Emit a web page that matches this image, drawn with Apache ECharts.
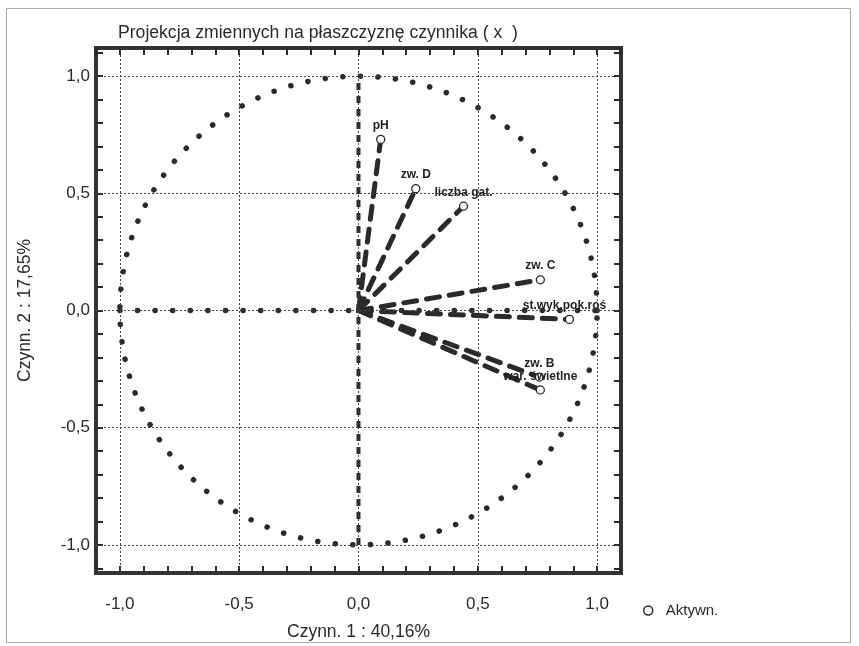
<!DOCTYPE html>
<html><head><meta charset="utf-8">
<script src="https://cdn.jsdelivr.net/npm/echarts@6/dist/echarts.min.js"></script>
<style>html,body{margin:0;padding:0;background:#fff}#c{width:859px;height:646px}</style>
</head><body><div id="c"></div>
<script>
// ---- data ----
const variables = ['pH', 'zw. D', 'liczba gat.', 'zw. C', 'st.wyk.pok.roś', 'zw. B', 'war. świetlne'];
const factor1 = [0.093, 0.24, 0.44, 0.762, 0.884, 0.758, 0.762];
const factor2 = [0.73, 0.52, 0.445, 0.131, -0.038, -0.284, -0.339];
const tickValues = [-1.0, -0.5, 0.0, 0.5, 1.0];
const titleText = 'Projekcja zmiennych na płaszczyznę czynnika ( x  )';
const xName = 'Czynn. 1 : 40,16%';
const yName = 'Czynn. 2 : 17,65%';
const legendName = 'Aktywn.';

// ---- helpers ----
const FONT = 'Liberation Sans, Arial, sans-serif';
const INK = '#2a2a2a';
const XMIN = -1.1, XMAX = 1.1, YMIN = -1.12, YMAX = 1.12;
const minorTicks = [];
for (let i = -11; i <= 11; i++) minorTicks.push(i / 10);
const fmt = v => (Math.round(v * 10) / 10).toFixed(1).replace('.', ',');

// unit circle of correlations (reference shape)
const unitCircle = [];
for (let a = 0; a <= 360; a += 1) {
  const r = a * Math.PI / 180;
  unitCircle.push([Math.cos(r), Math.sin(r)]);
}

const chart = echarts.init(document.getElementById('c'), null, {renderer: 'canvas'});

function mkX(pos, showLabel) {
  return {
    type: 'value', position: pos, min: XMIN, max: XMAX,
    name: showLabel ? xName : '', nameLocation: 'middle', nameGap: 50,
    nameTextStyle: {fontFamily: FONT, fontSize: 17.5, color: INK},
    axisLine: {show: false, onZero: false},
    splitLine: {show: false},
    axisTick: {show: true, inside: true, length: 7, customValues: minorTicks,
      lineStyle: {color: INK, width: 2}},
    axisLabel: {show: showLabel, customValues: tickValues, formatter: fmt, margin: 23,
      fontFamily: FONT, fontSize: 17, color: INK}
  };
}
function mkY(pos, showLabel) {
  return {
    type: 'value', position: pos, min: YMIN, max: YMAX,
    name: showLabel ? yName : '', nameLocation: 'middle', nameGap: 62,
    nameTextStyle: {fontFamily: FONT, fontSize: 17.5, color: INK},
    axisLine: {show: false, onZero: false},
    splitLine: {show: false},
    axisTick: {show: true, inside: true, length: 7, customValues: minorTicks,
      lineStyle: {color: INK, width: 2}},
    axisLabel: {show: showLabel, customValues: tickValues, formatter: fmt, margin: 6,
      fontFamily: FONT, fontSize: 17, color: INK}
  };
}

const gridMarks = tickValues.map(v => ({xAxis: v})).concat(tickValues.map(v => ({yAxis: v})));

const series = [];
// grid lines
series.push({
  type: 'line', data: [], silent: true, symbol: 'none', z: 1,
  markLine: {
    silent: true, symbol: 'none', animation: false,
    label: {show: false},
    lineStyle: {color: '#444', width: 1, type: [2, 2]},
    data: gridMarks
  }
});
// unit circle
series.push({
  type: 'line', data: unitCircle, symbol: 'none', silent: true, z: 2,
  lineStyle: {color: INK, width: 5.5, type: [0.1, 17.5], cap: 'round'}
});
// horizontal axis y=0 (dotted heavy)
series.push({
  type: 'line', data: [[tickValues[0], 0], [tickValues[4], 0]], symbol: 'none', silent: true, z: 2,
  lineStyle: {color: INK, width: 5.5, type: [0.1, 17.5], cap: 'round'}
});
// vertical axis x=0 (heavy dashes)
series.push({
  type: 'line', data: [[0, tickValues[0]], [0, tickValues[4]]], symbol: 'none', silent: true, z: 2,
  lineStyle: {color: INK, width: 4, type: [7, 6]}
});
// vectors
variables.forEach((name, i) => {
  series.push({
    type: 'line', data: [[0, 0], [factor1[i], factor2[i]]], symbol: 'none', silent: true, z: 3,
    lineStyle: {color: INK, width: 5, type: [13, 10], cap: 'round'}
  });
});
// points
const labelOffsets = {'st.wyk.pok.roś': [-5, 0]};
series.push({
  name: legendName, type: 'scatter', z: 5,
  symbol: 'circle', symbolSize: 8,
  itemStyle: {color: '#fff', borderColor: INK, borderWidth: 1.3, opacity: 1},
  data: variables.map((n, i) => ({
    name: n, value: [factor1[i], factor2[i]],
    label: {offset: labelOffsets[n] || [0, 0]}
  })),
  label: {show: true, position: 'top', distance: 3, formatter: p => p.name,
    fontFamily: FONT, fontSize: 12, fontWeight: 'bold', color: '#222'}
});

chart.setOption({
  animation: false,
  backgroundColor: '#fff',
  title: {text: titleText, left: 113, top: 19,
    textStyle: {fontFamily: FONT, fontSize: 17.6, fontWeight: 'normal', color: INK}},
  legend: {data: [{name: legendName, icon: 'circle'}], left: 638, top: 598,
    itemWidth: 9, itemHeight: 9,
    itemStyle: {color: '#fff', borderColor: INK, borderWidth: 1.5},
    textStyle: {fontFamily: FONT, fontSize: 15, color: INK, padding: [0, 0, 0, 8]}},
  grid: {left: 96, right: 238, top: 48, bottom: 71, show: true,
    borderColor: '#333', borderWidth: 4, backgroundColor: 'transparent'},
  xAxis: [mkX('bottom', true), mkX('top', false)],
  yAxis: [mkY('left', true), mkY('right', false)],
  graphic: [{type: 'rect', left: 4, top: 6, shape: {width: 844, height: 634},
    style: {fill: 'none', stroke: '#aaa', lineWidth: 1}, z: -10, silent: true}],
  series: series
});
</script></body></html>
